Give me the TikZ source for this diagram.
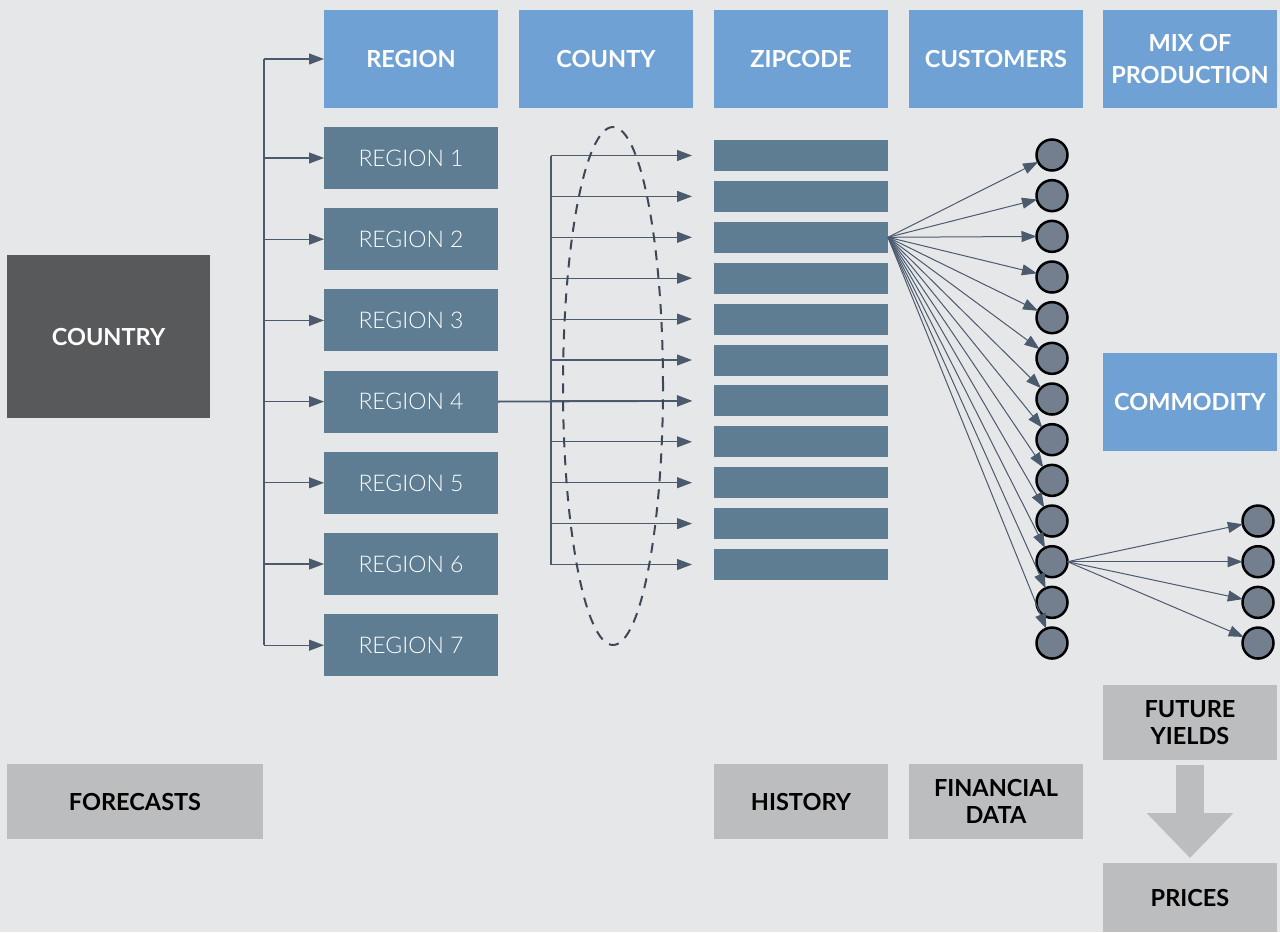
\documentclass[tikz,border=0pt]{standalone}
\usepackage{fontspec}
\setmainfont{Lato}
\newfontfamily\thinfont{Lato Light}
\usepackage{tikz}
\usetikzlibrary{arrows.meta}
\definecolor{bgcol}{HTML}{E6E7E9}
\definecolor{headblue}{HTML}{70A1D5}
\definecolor{regcol}{HTML}{5F7D92}
\definecolor{darkbox}{HTML}{58595B}
\definecolor{lightbox}{HTML}{BCBDBF}
\definecolor{linecol}{HTML}{4B5A6D}
\definecolor{dotcol}{HTML}{737F8F}

\begin{document}
\begin{tikzpicture}[x=1pt, y=-1pt, every node/.style = {inner sep=0pt, outer sep=0pt, align=center},
  headbox/.style = {fill=headblue, minimum width=174pt, minimum height=98pt, text=white, font=\fontsize{23.5}{32}\selectfont\bfseries},
  regbox/.style = {fill=regcol, minimum width=174pt, minimum height=62pt, text=white, text depth=0pt, font=\fontsize{23}{26}\selectfont\thinfont},
  zipbar/.style = {fill=regcol, minimum width=174pt, minimum height=31pt},
  infobox/.style = {fill=lightbox, minimum height=75pt, text=black, font=\fontsize{23.5}{27}\selectfont\bfseries},
  flat/.style = {text depth=0pt},
  dot/.style = {circle, draw=black, line width=2.5pt, fill=dotcol, minimum size=31pt},
  wire/.style = {draw=linecol, line width=1.2pt},
  arr/.style = {wire, -{Triangle[length=15pt,width=11pt]}}]
  \path[fill=bgcol, use as bounding box] (0,0) rectangle (1280,932);
  \node[headbox, flat] (reghead) at (411,59) {REGION};
  \node[headbox, flat] (counthead) at (606,59) {COUNTY};
  \node[headbox, flat] (ziphead) at (801,59) {ZIPCODE};
  \node[headbox, flat] (custhead) at (996,59) {CUSTOMERS};
  \node[headbox] (mixhead) at (1190,59) {MIX OF\\PRODUCTION};
  \node[headbox, flat] (commodity) at (1190,402) {COMMODITY};
  \node[headbox, flat, fill=darkbox, minimum width=203pt, minimum height=163pt] (country) at (108.5,336.5) {COUNTRY};
  \foreach \i in {1,...,7}
    \node[regbox] (reg\i) at (411,{158+81.2*(\i-1)}) {REGION \i};
  \foreach \i in {1,...,11}
    \node[zipbar] (zip\i) at (801,{155.5+40.9*(\i-1)}) {};
  \foreach \i in {1,...,13}
    \node[dot] (cust\i) at (1052,{155+40.67*(\i-1)}) {};
  \foreach \j [evaluate=\j as \k using int(\j+9)] in {1,...,4}
    \node[dot] (prod\j) at (1258,{155+40.67*(\k-1)}) {};
  \node[infobox, flat, minimum width=256pt] (forecasts) at (135,801.5) {FORECASTS};
  \node[infobox, flat, minimum width=174pt] (history) at (801,801.5) {HISTORY};
  \node[infobox, minimum width=174pt] (findata) at (996,801.5) {FINANCIAL\\DATA};
  \node[infobox, minimum width=174pt] (yields) at (1190,722.5) {FUTURE\\YIELDS};
  \node[infobox, flat, minimum width=174pt, minimum height=69pt] (prices) at (1190,897.5) {PRICES};
  \coordinate (ltop) at (264,59);
  \coordinate (lbot) at (264,645.2);
  \draw[wire] (ltop) -- (lbot);
  \draw[arr] (ltop) -- (reghead.west);
  \foreach \i in {1,...,7}
    \draw[arr] (reg\i.west -| ltop) -- (reg\i.west);
  \coordinate (ctop) at (551,155.5);
  \coordinate (cbot) at (551,564.5);
  \draw[wire] (ctop) -- (cbot);
  \foreach \i in {1,...,11}
    \draw[arr] (zip\i.west -| ctop) -- ([xshift=-22pt]zip\i.west);
  \draw[arr, line width=1.8pt] (reg4.east) -- ([xshift=-22pt]zip7.west);
  \draw[linecol!80!black, line width=2pt, dash pattern=on 10pt off 8pt] (613,386) ellipse [x radius=50pt, y radius=259pt];
  \foreach \i in {1,...,13}
    \draw[arr, line width=1pt] (zip3.east) -- (cust\i);
  \foreach \j in {1,...,4}
    \draw[arr, line width=1pt] (cust11.east) -- (prod\j);
  \draw[lightbox, line width=28pt, -{Triangle[length=45pt,width=84pt]}] ([yshift=-5pt]yields.south) -- ([yshift=5pt]prices.north);
\end{tikzpicture}
\end{document}
